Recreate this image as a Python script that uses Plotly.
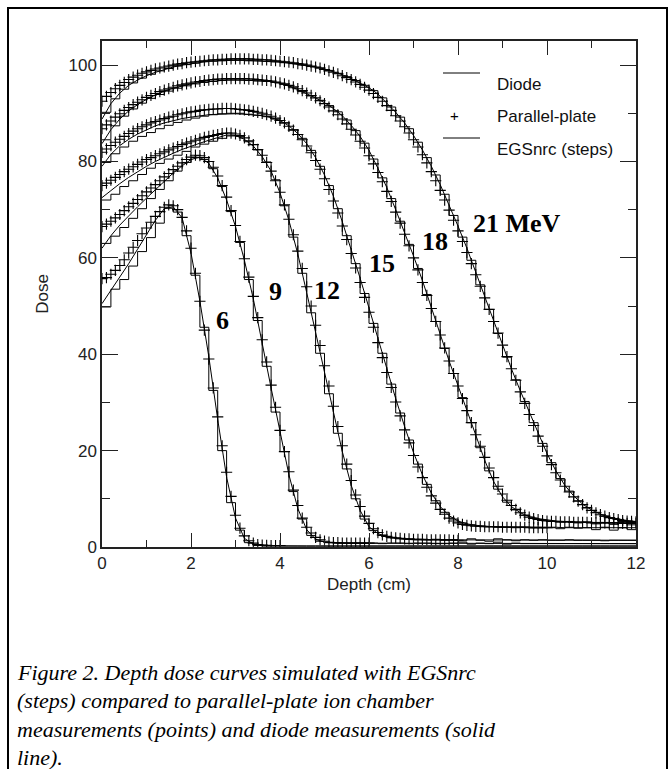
import numpy as np
import plotly.graph_objects as go

# ---------------- data ----------------
ENERGIES = [6, 9, 12, 15, 18, 21]
ENERGY_LABELS = ["6", "9", "12", "15", "18", "21 MeV"]
LABEL_DEPTH = [2.70, 3.90, 5.06, 6.29, 7.48, 9.33]
LABEL_DOSE = [47.0, 53.0, 53.3, 58.9, 63.3, 67.2]

DIODE_STEP = 0.2   # diode sampled every 0.2 cm from 0 to 12 cm
PP_STEP = 0.1      # parallel-plate points every 0.1 cm from 0 cm
EGS_BIN = 0.2      # EGSnrc scoring bins 0.2 cm wide from 0 to 12 cm

DIODE_6 = [50.5, 53.2, 56.0, 58.8, 61.8, 64.8, 67.8, 70.2, 70.6, 68.3,
           61.0, 51.0, 39.5, 26.5, 14.5, 6.0, 1.8, 0.6, 0.3, 0.25,
           0.2, 0.2, 0.2, 0.2, 0.2, 0.2, 0.2, 0.2, 0.2, 0.2,
           0.2, 0.2, 0.2, 0.2, 0.2, 0.2, 0.2, 0.2, 0.2, 0.2,
           0.2, 0.2, 0.2, 0.2, 0.2, 0.2, 0.2, 0.2, 0.2, 0.2,
           0.2, 0.2, 0.2, 0.2, 0.2, 0.2, 0.2, 0.2, 0.2, 0.2, 0.2]
DIODE_9 = [62.0, 64.6, 66.8, 68.8, 70.6, 72.4, 74.2, 76.0, 77.6, 79.1,
           80.4, 80.9, 79.6, 76.6, 72.0, 66.5, 59.5, 51.5, 42.0, 33.0,
           24.0, 15.0, 8.0, 3.6, 1.6, 1.0, 0.9, 0.8, 0.8, 0.8,
           0.8, 0.8, 0.8, 0.8, 0.8, 0.8, 0.8, 0.7, 0.7, 0.7,
           0.7, 0.7, 0.7, 0.7, 0.7, 0.7, 0.7, 0.7, 0.7, 0.7,
           0.7, 0.7, 0.7, 0.7, 0.7, 0.7, 0.7, 0.7, 0.7, 0.7, 0.7]
DIODE_12 = [72.5, 74.0, 75.4, 76.7, 77.9, 79.0, 80.0, 80.9, 81.7, 82.5,
            83.2, 83.8, 84.4, 85.0, 85.5, 85.4, 84.6, 83.2, 81.0, 78.0,
            73.5, 67.8, 60.8, 52.8, 44.5, 36.0, 27.6, 19.8, 12.8, 7.6,
            4.2, 2.8, 2.1, 1.8, 1.6, 1.5, 1.5, 1.5, 1.5, 1.5,
            1.5, 1.5, 1.5, 1.4, 1.5, 1.5, 1.4, 1.5, 1.4, 1.4,
            1.4, 1.4, 1.4, 1.4, 1.4, 1.4, 1.4, 1.4, 1.4, 1.4, 1.4]
DIODE_15 = [79.0, 81.5, 83.3, 84.6, 85.7, 86.6, 87.4, 88.0, 88.5, 88.9,
            89.2, 89.5, 89.7, 89.8, 89.9, 89.9, 89.8, 89.7, 89.5, 89.1,
            88.5, 87.4, 85.8, 83.7, 80.8, 77.2, 72.8, 67.5, 61.8, 55.8,
            49.6, 43.3, 37.0, 30.8, 25.0, 19.6, 15.0, 11.2, 8.4, 6.5,
            5.4, 4.8, 4.5, 4.3, 4.2, 4.2, 4.2, 4.1, 4.1, 4.1,
            4.1, 4.1, 4.0, 4.0, 4.0, 4.0, 4.0, 4.0, 4.0, 4.0, 4.0]
DIODE_18 = [83.7, 86.6, 88.8, 90.5, 91.8, 92.9, 93.8, 94.6, 95.2, 95.7,
            96.1, 96.4, 96.6, 96.8, 96.9, 96.9, 96.9, 96.8, 96.7, 96.6,
            96.3, 95.7, 94.9, 94.1, 93.2, 92.2, 91.0, 89.5, 87.5, 85.2,
            82.3, 78.6, 74.6, 70.0, 65.3, 60.4, 55.3, 49.6, 43.8, 38.6,
            33.5, 28.5, 23.2, 18.0, 13.6, 10.4, 8.4, 7.1, 6.3, 5.9,
            5.6, 5.4, 5.3, 5.2, 5.2, 5.1, 5.1, 5.0, 5.0, 5.0, 5.0]
DIODE_21 = [88.8, 92.0, 94.2, 95.8, 96.9, 97.8, 98.5, 99.1, 99.6, 100.0,
            100.3, 100.6, 100.8, 100.9, 101.0, 101.0, 101.0, 100.9, 100.9, 100.8,
            100.6, 100.4, 100.2, 99.9, 99.6, 99.2, 98.6, 98.0, 97.2, 96.3,
            95.3, 94.0, 92.2, 90.2, 88.0, 85.4, 82.4, 79.0, 75.2, 71.0,
            66.6, 62.0, 57.0, 51.8, 46.8, 41.8, 37.0, 32.4, 28.0, 23.6,
            19.4, 15.8, 12.8, 10.6, 8.9, 7.7, 6.8, 6.2, 5.8, 5.5, 5.3]

PP_6 = [55.7, 55.9, 56.6, 57.4, 58.4, 59.6, 61.0, 62.2, 63.6, 65.0,
        66.2, 67.4, 68.6, 69.6, 70.5, 71.0, 70.8, 70.0, 68.4, 65.6,
        62.0, 56.8, 51.0, 45.0, 39.0, 33.0, 27.0, 21.0, 15.5, 10.5,
        6.6, 3.9, 2.3, 1.3, 0.8, 0.5, 0.4, 0.35, 0.3, 0.3, 0.3]
PP_9 = [66.5, 67.0, 67.6, 68.3, 69.0, 69.8, 70.6, 71.3, 72.1, 72.9,
        73.7, 74.5, 75.2, 76.0, 76.8, 77.5, 78.3, 79.0, 79.7, 80.4,
        80.9, 81.3, 81.2, 80.8, 80.0, 78.8, 77.0, 75.0, 72.6, 69.8,
        66.7, 63.4, 59.8, 56.0, 52.0, 47.6, 43.0, 38.4, 33.6, 29.0,
        24.2, 19.8, 15.6, 11.8, 8.6, 6.0, 4.1, 2.9, 2.0, 1.5,
        1.2, 1.0, 0.9, 0.9, 0.8, 0.8, 0.8, 0.8, 0.8, 0.8, 0.8]
PP_12 = [75.0, 75.5, 76.1, 76.7, 77.3, 77.9, 78.4, 78.9, 79.4, 79.9,
         80.4, 80.8, 81.2, 81.6, 82.0, 82.4, 82.8, 83.1, 83.5, 83.8,
         84.1, 84.4, 84.7, 85.0, 85.2, 85.4, 85.6, 85.8, 85.9, 85.9,
         85.7, 85.4, 84.9, 84.3, 83.5, 82.5, 81.3, 79.8, 78.0, 76.0,
         73.6, 71.0, 68.0, 64.8, 61.4, 57.8, 54.0, 50.0, 46.0, 41.8,
         37.6, 33.4, 29.2, 25.0, 21.0, 17.2, 13.8, 10.8, 8.4, 6.4,
         4.9, 3.8, 3.0, 2.5, 2.2, 2.0, 1.9, 1.8, 1.7, 1.7,
         1.6, 1.6, 1.6, 1.5, 1.5, 1.5, 1.5, 1.5, 1.5, 1.4, 1.4]
PP_15 = [81.9, 82.6, 83.3, 84.0, 84.6, 85.2, 85.8, 86.3, 86.8, 87.2,
         87.6, 88.0, 88.3, 88.6, 88.9, 89.2, 89.4, 89.7, 89.9, 90.1,
         90.3, 90.4, 90.6, 90.7, 90.8, 90.9, 90.9, 91.0, 91.0, 91.0,
         90.9, 90.8, 90.7, 90.6, 90.4, 90.2, 90.0, 89.7, 89.4, 89.0,
         88.5, 88.0, 87.3, 86.5, 85.6, 84.5, 83.2, 81.8, 80.2, 78.4,
         76.4, 74.2, 71.8, 69.3, 66.6, 63.8, 60.9, 57.9, 54.9, 51.8,
         48.7, 45.6, 42.4, 39.3, 36.2, 33.1, 30.1, 27.2, 24.3, 21.6,
         19.0, 16.6, 14.4, 12.4, 10.6, 9.1, 7.8, 6.8, 6.0, 5.4,
         5.0, 4.7, 4.5, 4.4, 4.3, 4.3, 4.2, 4.2, 4.2, 4.2,
         4.1, 4.1, 4.1, 4.1, 4.1, 4.1, 4.0, 4.0, 4.0, 4.0, 4.0]
PP_18 = [86.8, 87.6, 88.4, 89.2, 89.9, 90.6, 91.2, 91.8, 92.3, 92.8,
         93.3, 93.7, 94.1, 94.5, 94.8, 95.1, 95.4, 95.7, 95.9, 96.1,
         96.3, 96.5, 96.6, 96.8, 96.9, 97.0, 97.1, 97.1, 97.2, 97.2,
         97.2, 97.2, 97.2, 97.1, 97.1, 97.0, 96.9, 96.8, 96.7, 96.5,
         96.3, 96.1, 95.8, 95.5, 95.1, 94.7, 94.2, 93.7, 93.2, 92.6,
         92.0, 91.3, 90.5, 89.7, 88.8, 87.8, 86.7, 85.5, 84.2, 82.8,
         81.2, 79.5, 77.7, 75.8, 73.8, 71.7, 69.5, 67.2, 64.9, 62.5,
         60.0, 57.5, 54.9, 52.2, 49.5, 46.8, 44.0, 41.3, 38.6, 36.0,
         33.4, 30.8, 28.3, 25.8, 23.3, 20.9, 18.6, 16.4, 14.4, 12.6,
         11.0, 9.7, 8.6, 7.8, 7.1, 6.6, 6.2, 5.9, 5.7, 5.5,
         5.4, 5.3, 5.3, 5.2, 5.2, 5.2, 5.1, 5.1, 5.1, 5.1,
         5.0, 5.0, 5.0, 5.0, 5.0, 5.0, 5.0, 4.9, 4.9, 4.9, 4.9]
PP_21 = [92.5, 93.5, 94.3, 95.1, 95.8, 96.4, 97.0, 97.5, 97.9, 98.3,
         98.6, 98.9, 99.2, 99.4, 99.6, 99.8, 100.0, 100.2, 100.3, 100.5,
         100.6, 100.7, 100.8, 100.9, 101.0, 101.1, 101.1, 101.2, 101.2, 101.3,
         101.3, 101.3, 101.3, 101.3, 101.2, 101.2, 101.1, 101.1, 101.0, 100.9,
         100.8, 100.7, 100.6, 100.5, 100.3, 100.2, 100.0, 99.8, 99.6, 99.4,
         99.1, 98.8, 98.5, 98.2, 97.8, 97.4, 97.0, 96.5, 96.0, 95.4,
         94.8, 94.1, 93.3, 92.5, 91.6, 90.6, 89.5, 88.4, 87.2, 85.9,
         84.5, 83.0, 81.4, 79.7, 77.9, 76.0, 74.0, 72.0, 69.9, 67.8,
         65.6, 63.4, 61.1, 58.8, 56.5, 54.1, 51.7, 49.3, 46.8, 44.4,
         41.9, 39.5, 37.0, 34.6, 32.2, 29.8, 27.5, 25.2, 23.0, 20.9,
         18.9, 17.1, 15.4, 13.9, 12.6, 11.4, 10.4, 9.5, 8.8, 8.1,
         7.6, 7.1, 6.7, 6.4, 6.1, 5.9, 5.7, 5.5, 5.4, 5.3, 5.2]

EGS_6 = [49.8, 53.5, 55.5, 58.3, 61.3, 64.2, 67.2, 70.3, 69.5, 64.6,
         56.4, 45.6, 32.5, 20.0, 9.2, 3.5, 0.9, 0.3, 0.2, 0.2,
         0.2, 0.2, 0.2, 0.2, 0.2, 0.2, 0.2, 0.2, 0.2, 0.2,
         0.2, 0.2, 0.2, 0.2, 0.2, 0.2, 0.2, 0.2, 0.2, 0.2,
         0.2, 0.2, 0.2, 0.2, 0.2, 0.2, 0.2, 0.2, 0.2, 0.2,
         0.2, 0.2, 0.2, 0.2, 0.2, 0.2, 0.2, 0.2, 0.2, 0.2]
EGS_9 = [63.0, 64.5, 66.3, 68.2, 70.2, 72.3, 74.2, 76.0, 78.0, 79.8,
         80.8, 80.4, 78.5, 74.8, 69.6, 63.2, 55.5, 47.0, 37.5, 28.0,
         19.8, 11.5, 5.8, 2.4, 1.2, 0.9, 0.8, 0.8, 0.8, 0.8,
         0.8, 0.7, 0.8, 0.8, 0.7, 0.8, 0.8, 0.7, 0.7, 0.8,
         1.0, 0.6, 0.8, 0.7, 1.0, 0.6, 0.8, 0.7, 0.7, 0.7,
         0.7, 0.7, 0.7, 0.7, 0.7, 0.7, 0.7, 0.7, 0.7, 0.7]
EGS_12 = [72.0, 73.2, 74.8, 76.0, 77.3, 78.6, 79.6, 80.5, 81.3, 82.1,
          83.0, 83.6, 84.2, 84.8, 85.3, 85.2, 84.1, 82.4, 79.9, 76.2,
          70.8, 64.3, 56.8, 48.6, 40.2, 31.8, 23.6, 16.2, 10.0, 5.8,
          3.4, 2.4, 1.9, 1.7, 1.6, 1.5, 1.5, 1.6, 1.4, 1.5,
          1.3, 1.7, 1.4, 1.2, 1.7, 1.5, 1.3, 1.5, 1.4, 1.5,
          1.4, 1.4, 1.5, 1.4, 1.4, 1.4, 1.3, 1.4, 1.4, 1.4]
EGS_15 = [79.8, 81.6, 83.0, 84.2, 85.2, 86.0, 86.8, 87.5, 88.1, 88.6,
          89.0, 89.4, 89.7, 89.9, 90.0, 90.0, 89.8, 89.6, 89.3, 88.8,
          88.0, 86.6, 84.8, 82.3, 79.0, 75.0, 70.2, 64.6, 58.8, 52.6,
          46.4, 40.2, 33.8, 27.8, 22.2, 17.2, 13.0, 9.6, 7.2, 5.8,
          5.0, 4.6, 4.3, 4.2, 4.1, 4.1, 4.0, 4.1, 4.0, 4.0,
          4.0, 3.8, 4.1, 3.9, 4.0, 3.6, 4.1, 3.5, 4.0, 3.6]
EGS_18 = [84.5, 87.4, 89.4, 90.9, 92.1, 93.1, 93.9, 94.6, 95.2, 95.7,
          96.1, 96.4, 96.6, 96.8, 96.9, 96.9, 96.8, 96.7, 96.6, 96.4,
          96.0, 95.3, 94.5, 93.6, 92.7, 91.6, 90.3, 88.6, 86.4, 83.8,
          80.5, 76.6, 72.3, 67.6, 62.8, 57.8, 52.4, 46.8, 41.2, 36.0,
          31.0, 25.8, 20.6, 15.8, 12.0, 9.3, 7.7, 6.6, 6.0, 5.6,
          5.4, 5.2, 5.3, 5.0, 5.2, 4.8, 5.1, 4.7, 5.0, 4.6]
EGS_21 = [90.2, 93.0, 95.0, 96.3, 97.3, 98.1, 98.8, 99.3, 99.8, 100.1,
          100.4, 100.7, 100.8, 100.9, 101.0, 101.0, 100.9, 100.9, 100.8, 100.7,
          100.5, 100.3, 100.0, 99.7, 99.4, 98.9, 98.3, 97.6, 96.8, 95.8,
          94.7, 93.2, 91.3, 89.2, 86.8, 84.0, 80.8, 77.2, 73.2, 68.8,
          64.3, 59.5, 54.4, 49.3, 44.3, 39.4, 34.7, 30.2, 25.8, 21.5,
          17.5, 14.2, 11.6, 9.6, 8.2, 7.2, 6.4, 5.9, 5.3, 5.1]

DIODE = [DIODE_6, DIODE_9, DIODE_12, DIODE_15, DIODE_18, DIODE_21]
PP = [PP_6, PP_9, PP_12, PP_15, PP_18, PP_21]
EGS = [EGS_6, EGS_9, EGS_12, EGS_15, EGS_18, EGS_21]

X_TICKS = [0, 2, 4, 6, 8, 10, 12]
Y_TICKS = [0, 20, 40, 60, 80, 100]

CAPTION = [
    "Figure 2. Depth dose curves simulated with EGSnrc",
    "(steps) compared to parallel-plate ion chamber",
    "measurements (points) and diode measurements (solid",
    "line).",
]
LEGEND_NAMES = ["Diode", "Parallel-plate", "EGSnrc (steps)"]

# ---------------- figure ----------------
W, H = 672, 769
ML, MR, MT, MB = 102, 36, 41, 222
PW, PH = W - ML - MR, H - MT - MB


def px_x(p):
    return (p - ML) / PW


def px_y(p):
    return (H - MB - p) / PH


fig = go.Figure()
BLACK = "#000000"

for e, d, p, g in zip(ENERGIES, DIODE, PP, EGS):
    xd = np.round(np.arange(len(d)) * DIODE_STEP, 3)
    fig.add_trace(go.Scatter(x=xd, y=d, mode="lines", showlegend=False,
                             line=dict(color=BLACK, width=1.0), name=f"Diode {e}"))
    xe = np.round(np.arange(len(g) + 1) * EGS_BIN, 3)
    ye = list(g) + [g[-1]]
    fig.add_trace(go.Scatter(x=xe, y=ye, mode="lines", line_shape="hv", showlegend=False,
                             line=dict(color=BLACK, width=1.0), name=f"EGSnrc {e}"))
    xp = np.round(np.arange(len(p)) * PP_STEP, 3)
    fig.add_trace(go.Scatter(x=xp, y=p, mode="markers", showlegend=False,
                             marker=dict(symbol="cross-thin", size=8,
                                         line=dict(color=BLACK, width=1.1)),
                             name=f"Parallel-plate {e}"))

for lab, lx, ly in zip(ENERGY_LABELS, LABEL_DEPTH, LABEL_DOSE):
    fig.add_annotation(x=lx, y=ly, xref="x", yref="y", text=f"<b>{lab}</b>", showarrow=False,
                       font=dict(family="Liberation Serif", size=26, color=BLACK))

# legend (drawn by hand, as in the original)
leg_rows = [73, 105, 138]
for i, (name, yy) in enumerate(zip(LEGEND_NAMES, leg_rows)):
    if i == 1:
        fig.add_annotation(x=px_x(461), y=px_y(yy), xref="paper", yref="paper", text="+",
                           showarrow=False, font=dict(family="Liberation Sans", size=15, color=BLACK))
    else:
        fig.add_shape(type="line", xref="paper", yref="paper", x0=px_x(443), x1=px_x(480),
                      y0=px_y(yy), y1=px_y(yy), line=dict(color=BLACK, width=1))
    fig.add_annotation(x=px_x(495), y=px_y(yy), xref="paper", yref="paper", text=name,
                       xanchor="left", showarrow=False,
                       font=dict(family="Liberation Sans", size=17, color="#111"))

# outer frame
fig.add_shape(type="rect", xref="paper", yref="paper", x0=px_x(8), x1=px_x(667),
              y0=px_y(800), y1=px_y(8), line=dict(color=BLACK, width=2), layer="above")

cap_y = [672, 700, 729, 757]
for t, yy in zip(CAPTION, cap_y):
    fig.add_annotation(x=px_x(15), y=px_y(yy), xref="paper", yref="paper", text=f"<i>{t}</i>",
                       xanchor="left", yanchor="middle", showarrow=False,
                       font=dict(family="Liberation Serif", size=22, color=BLACK))

axis_common = dict(showline=True, linecolor="#222", linewidth=1.5, mirror="ticks",
                   ticks="inside", tickcolor="#222", tickwidth=1.3, showgrid=False,
                   zeroline=False, tickfont=dict(family="Liberation Sans", size=17, color="#222"))

fig.update_xaxes(range=[0, 12], tickvals=X_TICKS, ticklen=14,
                 minor=dict(dtick=1, ticklen=7, tickcolor="#222", ticks="inside", tickwidth=1.3),
                 title=dict(text="Depth (cm)", font=dict(family="Liberation Sans", size=17, color="#222"),
                            standoff=6),
                 **axis_common)
fig.update_yaxes(range=[0, 105], tickvals=Y_TICKS, ticklen=16,
                 minor=dict(dtick=10, ticklen=8, tickcolor="#222", ticks="inside", tickwidth=1.3),
                 title=dict(text="Dose", font=dict(family="Liberation Sans", size=17, color="#222"),
                            standoff=16),
                 **axis_common)

fig.update_layout(width=W, height=H, margin=dict(l=ML, r=MR, t=MT, b=MB),
                  paper_bgcolor="white", plot_bgcolor="white", showlegend=False)

fig.write_html("out.html")
